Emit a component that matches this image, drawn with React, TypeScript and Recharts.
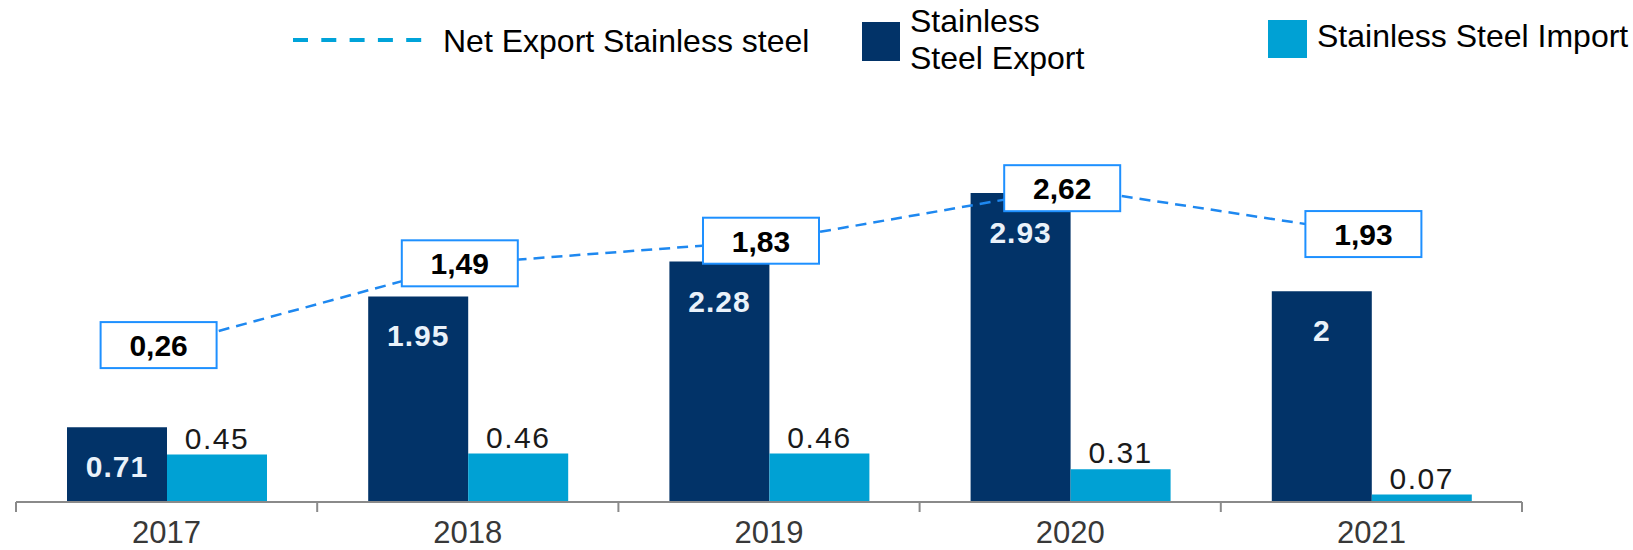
import React from 'react';
import { ComposedChart, Bar, Line, XAxis, YAxis, Legend, LabelList } from 'recharts';

const years = ['2017', '2018', '2019', '2020', '2021'];
const exportValues = [0.71, 1.95, 2.28, 2.93, 2];
const importValues = [0.45, 0.46, 0.46, 0.31, 0.07];
const netExportValues = [0.26, 1.49, 1.83, 2.62, 1.93];

const data = years.map((year, i) => ({
  year,
  export: exportValues[i],
  import: importValues[i],
  net: netExportValues[i],
}));

const WIDTH = 1633;
const HEIGHT = 550;
const MARGIN = { top: 133, right: 111, left: 16, bottom: 0 };
const BAND = (WIDTH - MARGIN.left - MARGIN.right) / years.length;

const DARK = '#023368';
const LIGHT = '#00A1D4';
const LINE_BLUE = '#1E88F0';
const AXIS_GRAY = '#8a8a8a';
const FONT = '"Liberation Sans", Arial, sans-serif';

function YearTick(props: any) {
  const { x, y, payload, index } = props;
  const left = x - BAND / 2;
  const right = x + BAND / 2;
  return (
    <g>
      <line x1={left} x2={left} y1={y} y2={y + 10} stroke={AXIS_GRAY} strokeWidth={2} />
      {index === years.length - 1 && (
        <line x1={right} x2={right} y1={y} y2={y + 10} stroke={AXIS_GRAY} strokeWidth={2} />
      )}
      <text x={x} y={y + 41} textAnchor="middle" fontSize={31} fontFamily={FONT} fill="#383838">
        {payload.value}
      </text>
    </g>
  );
}

function ExportLabel(props: any) {
  const { x, y, width, value } = props;
  return (
    <text
      x={x + width / 2}
      y={y + 50}
      textAnchor="middle"
      fontSize={30}
      fontWeight="bold"
      letterSpacing={1}
      fontFamily={FONT}
      fill="#EAF2FA"
    >
      {String(value)}
    </text>
  );
}

function ImportLabel(props: any) {
  const { x, y, width, value } = props;
  return (
    <text
      x={x + width / 2}
      y={y - 6}
      textAnchor="middle"
      fontSize={30}
      letterSpacing={1.5}
      fontFamily={FONT}
      fill="#1a1a1a"
    >
      {value.toFixed(2)}
    </text>
  );
}

function NetLabel(props: any) {
  const { x, y, value } = props;
  const w = 116;
  const h = 46;
  const cx = x - 8;
  return (
    <g>
      <rect x={cx - w / 2} y={y - h / 2} width={w} height={h} fill="#fff" stroke="#1E90FF" strokeWidth={2} />
      <text
        x={cx}
        y={y + 11}
        textAnchor="middle"
        fontSize={30}
        fontWeight="bold"
        fontFamily={FONT}
        fill="#000"
      >
        {value.toFixed(2).replace('.', ',')}
      </text>
    </g>
  );
}

function LegendContent() {
  return (
    <svg width={WIDTH} height={80} style={{ display: 'block' }}>
      <line x1={293} x2={422} y1={40} y2={40} stroke="#00A3D9" strokeWidth={4} strokeDasharray="15 13.3" />
      <text x={443} y={52} fontSize={32} fontFamily={FONT} fill="#000">
        Net Export Stainless steel
      </text>
      <rect x={862} y={22} width={38} height={39} fill={DARK} />
      <text x={910} y={32} fontSize={32} fontFamily={FONT} fill="#000">
        Stainless
      </text>
      <text x={910} y={69} fontSize={32} fontFamily={FONT} fill="#000">
        Steel Export
      </text>
      <rect x={1268} y={20} width={39} height={38} fill={LIGHT} />
      <text x={1317} y={47} fontSize={32} fontFamily={FONT} fill="#000">
        Stainless Steel Import
      </text>
    </svg>
  );
}

export default function App() {
  return (
    <div style={{ position: 'absolute', left: 0, top: 0, width: WIDTH, height: HEIGHT, background: '#fff' }}>
      <ComposedChart width={WIDTH} height={HEIGHT} data={data} margin={MARGIN} barGap={0}>
        <XAxis
          dataKey="year"
          height={48}
          axisLine={{ stroke: AXIS_GRAY, strokeWidth: 2 }}
          tickLine={false}
          tickSize={0}
          tickMargin={0}
          tick={<YearTick />}
          interval={0}
        />
        <YAxis yAxisId="left" hide domain={[0, 3.5]} />
        <YAxis yAxisId="right" orientation="right" hide domain={[-2.1, 3.45]} />
        <Legend
          layout="vertical"
          align="center"
          verticalAlign="middle"
          wrapperStyle={{ top: 0, left: 0, width: WIDTH, height: 80 }}
          content={<LegendContent />}
        />
        <Bar yAxisId="left" dataKey="export" name="Stainless Steel Export" fill={DARK} barSize={100} isAnimationActive={false}>
          <LabelList dataKey="export" content={<ExportLabel />} />
        </Bar>
        <Bar yAxisId="left" dataKey="import" name="Stainless Steel Import" fill={LIGHT} barSize={100} isAnimationActive={false}>
          <LabelList dataKey="import" content={<ImportLabel />} />
        </Bar>
        <Line
          yAxisId="right"
          dataKey="net"
          name="Net Export Stainless steel"
          stroke={LINE_BLUE}
          strokeWidth={2.5}
          strokeDasharray="11 7"
          dot={false}
          activeDot={false}
          isAnimationActive={false}
        >
          <LabelList dataKey="net" content={<NetLabel />} />
        </Line>
      </ComposedChart>
    </div>
  );
}
